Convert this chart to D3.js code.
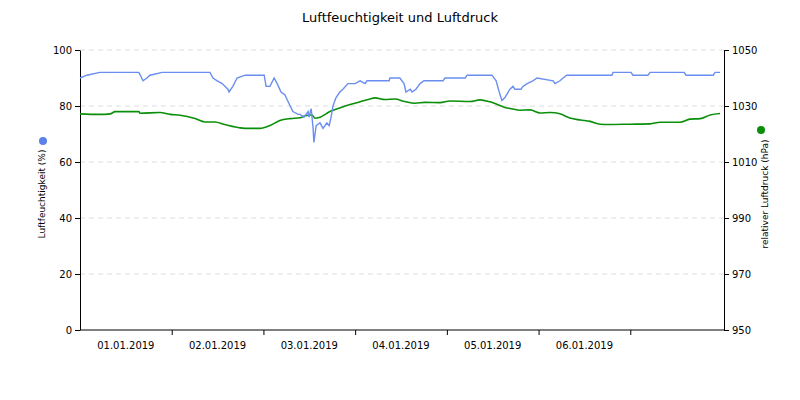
<!DOCTYPE html>
<html><head><meta charset="utf-8">
<script src="https://cdn.jsdelivr.net/npm/d3@7"></script>
<style>body{margin:0;background:#fff}text{font-family:"DejaVu Sans",sans-serif}</style>
</head><body>
<svg id="chart" width="800" height="400"></svg>
<script>
// data: hours since 01.01.2019 00:00 and values
const humHours = [0,1.8,5.2,15.4,16.5,17.5,18.3,21.5,34,34.8,35.9,37.2,38.7,39,40,41.1,43.2,48.2,48.7,49.7,50.8,51.6,52.6,53.6,55,55.7,57.1,57.6,58.6,59.7,59.9,60.5,61,61.2,61.8,62.8,63.6,64.6,65.2,65.7,66.2,67,68,68.8,70.1,72,73.3,74.6,75.1,80.9,81.1,83.7,84.8,85.3,86.4,86.9,87.9,89,90,95,95.5,100.8,101.3,107.8,108.9,109.7,110.4,111.2,112.5,113.3,113.8,115.4,115.9,117,118.5,119.6,123.8,124.3,125.6,126.4,127.4,139.2,139.5,144.2,144.7,148.6,149.2,158.1,158.6,165.7,166.2,167.5];
const humValues = [90,91,92,92,89,90,91,92,92,90,89,88,86,85,87,90,91,91,87,87,90,88,85,84,80,78,77,77,76,78,76,79,72,67,73,74,72,74,73,76,80,83,85,86,88,88,89,88,89,89,90,90,88,85,86,85,86,88,89,89,90,90,91,91,89,85,82,83,86,87,86,86,87,88,89,90,89,88,89,90,91,91,92,92,91,91,92,92,91,91,92,92];
const presHours = [0,5.2,7.9,9.2,15.4,15.7,20.9,23.6,26.2,30.1,32.7,35.3,37.9,41.9,44.5,47.1,49.7,52.3,55,57.6,58.9,60.7,61.5,62.8,65.4,68,70.7,73.3,75.9,77.2,79.8,82.4,85,87.7,90.3,94.2,96.8,102.1,104.7,107.3,111.2,113,115.1,117.8,120.4,123,125.6,128.2,130.9,133.5,136.1,138.7,143.9,149.2,151.8,157,159.6,162.3,164.9,167.5];
const presValues = [1027.2,1027,1027.2,1028,1028,1027.4,1027.7,1027,1026.7,1025.5,1024.3,1024.3,1023.4,1022.2,1022,1022,1023,1024.8,1025.5,1025.8,1026.5,1026.8,1025.6,1026,1028,1029.3,1030.5,1031.5,1032.5,1032.9,1032.3,1032.5,1031.6,1031,1031.3,1031.2,1031.8,1031.6,1032.2,1031.5,1029.5,1029,1028.5,1028.6,1027.5,1027.7,1027.2,1025.7,1025,1024.5,1023.5,1023.4,1023.5,1023.6,1024.2,1024.2,1025.3,1025.5,1026.8,1027.3];
const humTicks = [0,20,40,60,80,100];
const presTicks = [950,970,990,1010,1030,1050];
const dayLabels = ["01.01.2019","02.01.2019","03.01.2019","04.01.2019","05.01.2019","06.01.2019"];

const svg = d3.select("#chart");
const t0 = new Date(2019,0,1);
const toDate = h => new Date(t0.getTime() + h*3600e3);

const x = d3.scaleTime().domain([t0, new Date(2019,0,8)]).range([80,722]);
const yH = d3.scaleLinear().domain([0,100]).range([330,50]);
const yP = d3.scaleLinear().domain([950,1050]).range([330,50]);

// title
svg.append("text").attr("x",400).attr("y",22).attr("text-anchor","middle")
  .attr("font-size",13).text("Luftfeuchtigkeit und Luftdruck");

// grid
svg.append("g").selectAll("line").data(humTicks.filter(d => d > 0)).join("line")
  .attr("x1",80).attr("x2",724).attr("y1",d => yH(d)).attr("y2",d => yH(d))
  .attr("stroke","#ddd").attr("stroke-dasharray","5,4");

// axes
const left = svg.append("g").attr("transform","translate(80,0)")
  .call(d3.axisLeft(yH).tickValues(humTicks).tickSize(5).tickSizeOuter(0));
const right = svg.append("g").attr("transform","translate(724,0)")
  .call(d3.axisRight(yP).tickValues(presTicks).tickFormat(d3.format("d")).tickSize(5).tickSizeOuter(0));
const dayTicks = d3.range(1,7).map(i => new Date(2019,0,1+i));
const bottom = svg.append("g").attr("transform","translate(0,330)")
  .call(d3.axisBottom(x).tickValues(dayTicks).tickSize(5).tickFormat("").tickSizeOuter(0));
bottom.select(".domain").attr("d","M80,0H724");
[left,right,bottom].forEach(g => {
  g.selectAll("text").attr("font-size",10).attr("font-family","DejaVu Sans");
  g.select(".domain").attr("stroke","#000");
});

svg.append("g").selectAll("text").data(dayLabels).join("text")
  .attr("x",(d,i) => x(new Date(2019,0,1+i,12))).attr("y",349)
  .attr("text-anchor","middle").attr("font-size",10).text(d => d);

// axis titles
svg.append("text").attr("transform","translate(45,194) rotate(-90)")
  .attr("text-anchor","middle").attr("font-size",9).text("Luftfeuchtigkeit (%)");
svg.append("circle").attr("cx",43).attr("cy",141).attr("r",4).attr("fill","#5b82e8");
svg.append("text").attr("transform","translate(768,194) rotate(-90)")
  .attr("text-anchor","middle").attr("font-size",9).text("relativer Luftdruck (hPa)");
svg.append("circle").attr("cx",761).attr("cy",130).attr("r",4).attr("fill","#0a8f0a");

// lines
const humData = humHours.map((h,i) => [toDate(h), humValues[i]]);
const presData = presHours.map((h,i) => [toDate(h), presValues[i]]);
svg.append("path").datum(presData)
  .attr("d", d3.line().x(d => x(d[0])).y(d => yP(d[1])).curve(d3.curveMonotoneX))
  .attr("fill","none").attr("stroke","#0a8f0a").attr("stroke-width",1.6);
svg.append("path").datum(humData)
  .attr("d", d3.line().x(d => x(d[0])).y(d => yH(d[1])))
  .attr("fill","none").attr("stroke","#6a8ef0").attr("stroke-width",1.4);
</script>
</body></html>
